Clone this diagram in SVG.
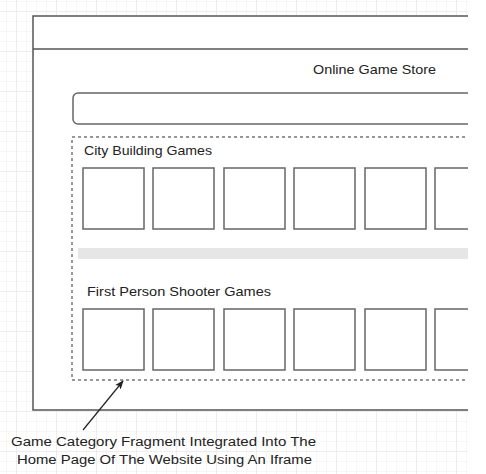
<svg xmlns="http://www.w3.org/2000/svg" width="486" height="474" viewBox="0 0 486 474">
<defs>
<pattern id="minor" width="10" height="10" patternUnits="userSpaceOnUse" x="6" y="1">
<path d="M0 0H10M0 0V10" fill="none" stroke="#f0f0f0" stroke-width="1"/>
</pattern>
<pattern id="major" width="40" height="40" patternUnits="userSpaceOnUse" x="16" y="11">
<path d="M0 0H40M0 0V40" fill="none" stroke="#e4e4e4" stroke-width="1"/>
</pattern>
<clipPath id="clip"><rect x="0" y="0" width="468" height="474"/></clipPath>
<marker id="arr" markerWidth="10" markerHeight="10" refX="8" refY="5" orient="auto" markerUnits="userSpaceOnUse">
<path d="M0 1.5L9 5L0 8.5L2 5Z" fill="#222"/>
</marker>
</defs>
<style>
.frame{fill:#fff;stroke:#555;stroke-width:1.5}
.box{fill:#fff;stroke:#666;stroke-width:1.5}
.dash{fill:none;stroke:#777;stroke-width:1.5;stroke-dasharray:3 3}
.t{font-family:"Liberation Sans",Arial,sans-serif;font-size:13px;fill:#222}
.c{font-family:"Liberation Sans",Arial,sans-serif;font-size:12px;fill:#222}
</style>
<rect width="486" height="474" fill="#fff"/>
<g clip-path="url(#clip)">
<rect width="468" height="474" fill="url(#minor)"/>
<rect width="468" height="474" fill="url(#major)"/>
<g id="page">
<rect class="frame" x="33" y="16" width="460" height="394"/>
<line x1="33" y1="49" x2="468" y2="49" stroke="#555" stroke-width="1.5"/>
<text class="t" x="313" y="74" textLength="123" lengthAdjust="spacingAndGlyphs">Online Game Store</text>
</g>
<g id="search">
<rect class="box" x="73" y="93" width="420" height="31" rx="5"/>
</g>
<g id="fragment">
<rect class="dash" x="72" y="137" width="420" height="243"/>
<text class="t" x="84" y="155" textLength="128" lengthAdjust="spacingAndGlyphs">City Building Games</text>
<g id="row1">
<rect class="box" x="83" y="168" width="61" height="61"/>
<rect class="box" x="153" y="168" width="61" height="61"/>
<rect class="box" x="224" y="168" width="61" height="61"/>
<rect class="box" x="294" y="168" width="61" height="61"/>
<rect class="box" x="365" y="168" width="61" height="61"/>
<rect class="box" x="435" y="168" width="61" height="61"/>
</g>
<rect x="78" y="248" width="400" height="11" fill="#e6e6e6"/>
<text class="t" x="87" y="296" textLength="184" lengthAdjust="spacingAndGlyphs">First Person Shooter Games</text>
<g id="row2">
<rect class="box" x="83" y="309" width="61" height="61"/>
<rect class="box" x="153" y="309" width="61" height="61"/>
<rect class="box" x="224" y="309" width="61" height="61"/>
<rect class="box" x="294" y="309" width="61" height="61"/>
<rect class="box" x="365" y="309" width="61" height="61"/>
<rect class="box" x="435" y="309" width="61" height="61"/>
</g>
</g>
<g id="connectors">
<line x1="83" y1="430" x2="123" y2="381" stroke="#222" stroke-width="1.2" marker-end="url(#arr)"/>
</g>
<g id="caption">
<text class="c" x="11" y="446" textLength="305" lengthAdjust="spacingAndGlyphs">Game Category Fragment Integrated Into The</text>
<text class="c" x="17" y="464" textLength="295" lengthAdjust="spacingAndGlyphs">Home Page Of The Website Using An Iframe</text>
</g>
</g>
</svg>
